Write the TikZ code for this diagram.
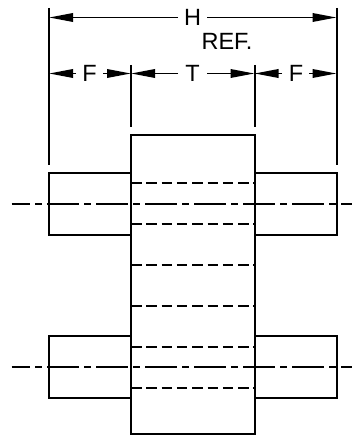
\documentclass[tikz,border=0pt]{standalone}
\usepackage{fontspec}
\setmainfont{Liberation Sans}
\usetikzlibrary{arrows.meta}
\tikzset{
  part/.style={line width=2pt,line join=miter},
  hidden/.style={line width=2pt,dash pattern=on 10.5pt off 4.8pt},
  centre/.style={line width=2pt,dash pattern=on 32pt off 5pt on 7pt off 5pt,dash phase=13.7pt},
  ext/.style={line width=2pt},
  dim/.style={line width=1.8pt,-{Triangle[length=24pt,width=8.5pt]}},
  lbl/.style={inner sep=0pt,font=\fontsize{23.5}{23.5}\selectfont},
}
\begin{document}
\begin{tikzpicture}[x=1pt,y=-1pt]
\useasboundingbox (0,0) rectangle (352,435);
\fill[white] (0,0) rectangle (352,435);
% extension lines
\coordinate (e1a) at (49,8);     \coordinate (e1b) at (49,165.5);
\coordinate (e4a) at (336.5,8);  \coordinate (e4b) at (336.5,165.5);
\coordinate (e2a) at (131,65);   \coordinate (e2b) at (131,127);
\coordinate (e3a) at (254.5,65); \coordinate (e3b) at (254.5,127);
\draw[ext] (e1a) -- (e1b);
\draw[ext] (e4a) -- (e4b);
\draw[ext] (e2a) -- (e2b);
\draw[ext] (e3a) -- (e3b);
% labels
\node[lbl] (H) at (192.5,17.5) {H};
\node[lbl] (R) at (227,41.5) {REF.};
\node[lbl] (F1) at (89.5,73.5) {F};
\node[lbl] (T) at (192.5,73.5) {T};
\node[lbl] (F2) at (296,73.5) {F};
% dimension coordinates
\coordinate (h1) at (49,17.5);    \coordinate (h2) at (336.5,17.5);
\coordinate (h1i) at (178,17.5);  \coordinate (h2i) at (207,17.5);
\coordinate (a1) at (49,73.5);    \coordinate (a2) at (131,73.5);
\coordinate (a3) at (254.5,73.5); \coordinate (a4) at (336.5,73.5);
\coordinate (f1i) at (76,73.5);   \coordinate (f1o) at (103,73.5);
\coordinate (ti) at (178,73.5);   \coordinate (to) at (207,73.5);
\coordinate (f2i) at (282,73.5);  \coordinate (f2o) at (309,73.5);
\draw[dim] (h1i) -- (h1);
\draw[dim] (h2i) -- (h2);
\draw[dim] (f1i) -- (a1);
\draw[dim] (f1o) -- (a2);
\draw[dim] (ti) -- (a2);
\draw[dim] (to) -- (a3);
\draw[dim] (f2i) -- (a3);
\draw[dim] (f2o) -- (a4);
% body
\draw[part] (131,135) rectangle (254.5,433.8);
% flanges
\draw[part] (131,173) -- (49,173) -- (49,235) -- (131,235);
\draw[part] (254.5,173) -- (336.5,173) -- (336.5,235) -- (254.5,235);
\draw[part] (131,336) -- (49,336) -- (49,397.5) -- (131,397.5);
\draw[part] (254.5,336) -- (336.5,336) -- (336.5,397.5) -- (254.5,397.5);
% hidden lines
\foreach \yy in {182.7,224,265,306,347,388}
  \draw[hidden] (131,\yy) -- (254.5,\yy);
% centre lines
\draw[centre] (11.7,204) -- (352,204);
\draw[centre] (11.7,366.5) -- (352,366.5);
\end{tikzpicture}
\end{document}
